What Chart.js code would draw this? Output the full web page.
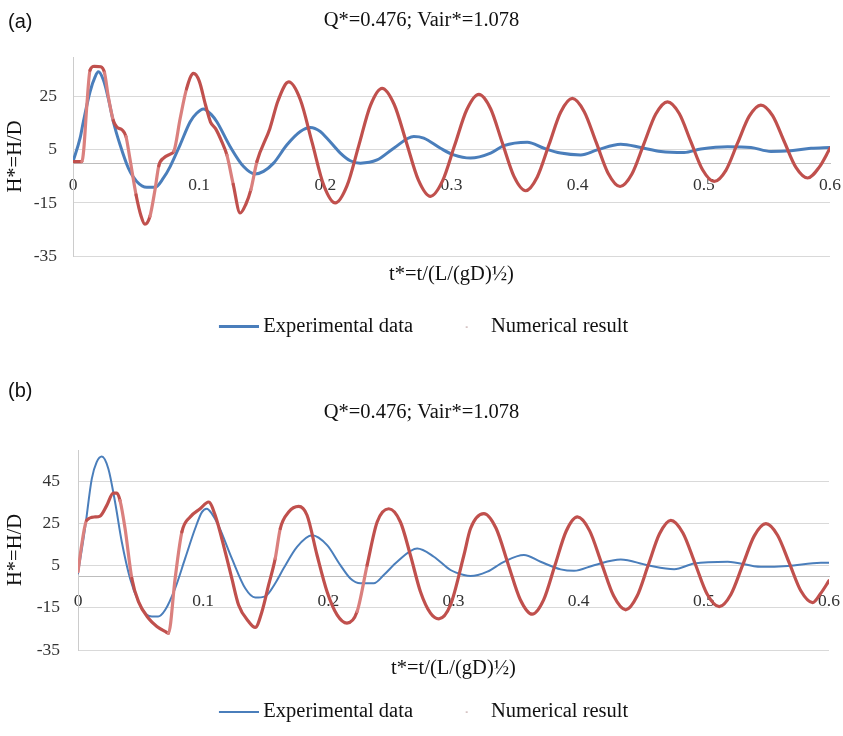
<!DOCTYPE html>
<html><head><meta charset="utf-8">
<script src="https://cdn.jsdelivr.net/npm/chart.js@4"></script>
<style>
html,body{margin:0;padding:0;background:#fff;overflow:hidden;}
#wrap{position:relative;width:843px;height:736px;}
.tag{position:absolute;left:8px;font-family:'Liberation Sans',Arial,sans-serif;font-size:20px;line-height:24px;color:#111;}
.box{position:absolute;left:0;width:843px;}
</style></head><body>
<div id="wrap">
<div class="box" style="top:0;height:347px"><canvas id="ca"></canvas></div>
<div class="box" style="top:366px;height:366px"><canvas id="cb"></canvas></div>
<div class="tag" style="top:9px">(a)</div>
<div class="tag" style="top:378px">(b)</div>
</div>
<script>
// ---------- data ----------
const titleText = 'Q*=0.476; Vair*=1.078';
const xTitle = 't*=t/(L/(gD)½)';
const yTitle = 'H*=H/D';
const seriesNames = ['Experimental data', 'Numerical result'];
const xTicks = [0, 0.1, 0.2, 0.3, 0.4, 0.5, 0.6];
const yTicksA = [-35, -15, 5, 25];
const yTicksB = [-35, -15, 5, 25, 45];

// (a) experimental
const tA_exp = [0,0.0056,0.0082,0.0135,0.0175,0.0201,0.0241,0.028,0.032,0.0373,0.0439,0.0505,0.0585,0.065,0.0717,0.077,0.0849,0.0929,0.098,0.1034,0.110,0.114,0.1246,0.1352,0.1444,0.151,0.159,0.1696,0.1802,0.1881,0.196,0.2013,0.2119,0.2198,0.2278,0.241,0.2542,0.2701,0.278,0.2913,0.3018,0.3151,0.331,0.3415,0.3601,0.3733,0.3865,0.4024,0.4156,0.4341,0.45,0.4659,0.4844,0.4976,0.5188,0.5373,0.5532,0.569,0.5849,0.6];
const hA_exp = [0.6,9.4,15.6,26.9,32.5,34.4,31.3,24.4,15.6,6.9,-1.9,-6.9,-9.1,-9.1,-5.6,-1.3,6.9,15.6,18.8,20.4,18.1,15.6,6.2,-1.3,-4.1,-3.1,0,6.9,11.9,13.4,11.9,9.4,3.8,0.9,0,1.2,5.6,10,9.4,5.6,3.1,1.9,3.8,6.6,7.9,5.6,3.8,3.1,5,7.1,5.9,4.4,4,5.3,6.2,5.9,4.4,4.7,5.6,5.9];

// (a) numerical
const tA_num = [0,0.007,0.0085,0.011,0.0135,0.017,0.022,0.025,0.028,0.032,0.035,0.039,0.042,0.045,0.05,0.054,0.057,0.061,0.065,0.068,0.072,0.0775,0.08,0.085,0.09,0.0955,0.1,0.105,0.109,0.113,0.118,0.122,0.127,0.1325,0.137,0.141,0.1458,0.156,0.1625,0.171,0.1802,0.1895,0.1987,0.2079,0.2172,0.2265,0.2357,0.245,0.2546,0.2642,0.2737,0.2833,0.2929,0.3025,0.3121,0.3217,0.331,0.3402,0.3495,0.3587,0.368,0.3773,0.3865,0.3958,0.4052,0.4147,0.4241,0.4336,0.443,0.4524,0.4618,0.4712,0.4805,0.4897,0.499,0.5082,0.5175,0.5267,0.536,0.5452,0.5545,0.5637,0.573,0.5823,0.5915,0.6];
const hA_num = [0.6,0.6,5,22,35,36.5,36.3,34,25,16,13.5,12.5,10,2,-12,-20,-23,-20,-10,-1,2,3.5,4.5,17,28,33.8,31,22,15.5,13,8,3,-8,-18.8,-15.5,-10,0.6,13,23.5,30.6,23.9,7.8,-8.3,-15,-8.5,6.6,21.7,28.2,22.1,7.9,-6.3,-12.5,-6.7,6.7,20.1,25.9,20.5,7.75,-5,-10.4,-5.2,7,19.2,24.4,19.4,7.8,-3.8,-8.8,-4.1,7.15,18.4,23.1,18.7,8.1,-2.5,-6.9,-2.7,7.5,17.7,21.9,17.9,8.15,-1.6,-5.6,-1.5,5.6];

// (b) experimental
const tB_exp = [0,0.0056,0.011,0.0149,0.019,0.0243,0.0296,0.035,0.0416,0.0483,0.055,0.059,0.064,0.0696,0.0776,0.0856,0.0936,0.099,0.1029,0.1069,0.1122,0.1229,0.1336,0.1416,0.1496,0.1576,0.1643,0.175,0.187,0.199,0.2096,0.2176,0.2256,0.2363,0.2443,0.255,0.271,0.2843,0.2976,0.3083,0.3136,0.327,0.3403,0.3563,0.3696,0.3856,0.3963,0.4123,0.4336,0.4549,0.4763,0.4923,0.519,0.5456,0.567,0.5936,0.6];
const hB_exp = [1.4,22.7,46.3,54.2,56.9,51,35.3,16.3,-1,-12,-18.3,-19.1,-19.1,-16,-5.7,8.5,22.7,30.5,32.1,29.8,24.2,8.5,-5.7,-10.1,-9.5,-3.3,3.8,14,19.5,14.8,5.3,-1,-3.3,-3.3,0.6,6.9,13.2,9.3,3,0.6,0.1,2.2,6.9,10.1,6.9,3.3,2.6,5.3,8,5.3,3.4,6.1,6.9,4.5,4.9,6.4,6.4];

// (b) numerical
const tB_num = [0,0.0029,0.0069,0.0136,0.0176,0.023,0.0282,0.031,0.0336,0.0376,0.043,0.0483,0.0563,0.063,0.0696,0.0723,0.0776,0.083,0.0896,0.0976,0.1043,0.1096,0.1176,0.1229,0.1283,0.1363,0.1416,0.147,0.1523,0.1576,0.1616,0.1683,0.1763,0.183,0.191,0.199,0.207,0.2149,0.223,0.231,0.239,0.2483,0.2576,0.2656,0.2736,0.2816,0.2883,0.2976,0.3083,0.3136,0.3243,0.334,0.3436,0.3533,0.3629,0.372,0.381,0.39,0.399,0.4087,0.4183,0.428,0.4376,0.4466,0.4556,0.4646,0.4736,0.4833,0.493,0.5026,0.5123,0.5216,0.531,0.5403,0.5496,0.5589,0.5683,0.5776,0.5869,0.5935,0.6];
const hB_num = [2.2,14.8,26.6,28.2,28.6,33.7,39.5,39.5,36,22.7,-1,-12,-19.9,-23.8,-26.2,-27,-1,21.1,28.2,32.1,35.3,29,11.6,-1,-13.6,-21.5,-24.3,-16.7,-4.1,8.5,22.7,30.5,33.2,29,10,-7.3,-18.3,-22.2,-16.7,5.3,25.8,32.1,25.8,10,-7.3,-17.5,-20.2,-13.6,10,22.7,29.8,22.8,5.9,-11,-18,-11.2,5.1,21.4,28.2,21.7,6.15,-9.4,-15.9,-9.5,5.35,20.2,26.6,20.6,6.1,-8.4,-14.4,-8.6,5.3,19.2,25,19.5,6.25,-7,-12.5,-8,-2.1];

// ---------- styling ----------
const SERIF = "'Liberation Serif','Times New Roman',serif";
const BLUE = '#4a7ebb';
const RED = '#c0504d';
const PINK = 'rgb(218,128,126)';

function pts(t, h) { return t.map((x, i) => ({ x: x, y: h[i] })); }

function legendImg(kind, lw) {
  const c = document.createElement('canvas');
  const g = c.getContext('2d');
  if (kind === 'line') {
    c.width = 50; c.height = lw;
    g.fillStyle = BLUE; g.fillRect(10, 0, 40, lw);
  } else {
    c.width = 20; c.height = 3;
    g.fillStyle = '#d6c4c4'; g.fillRect(14, 1, 2, 2);
  }
  return c;
}

function makeChart(id, o) {
  const steep = c => Math.abs(c.p1.y - c.p0.y) > 4.5 * Math.abs(c.p1.x - c.p0.x);
  return new Chart(document.getElementById(id), {
    type: 'line',
    data: { datasets: [
      { label: seriesNames[0], data: pts(o.te, o.he), borderColor: BLUE, borderWidth: o.bw,
        pointRadius: 0, cubicInterpolationMode: 'monotone', order: 1, borderCapStyle: 'round', borderJoinStyle: 'round' },
      { label: seriesNames[1], data: pts(o.tn, o.hn), borderColor: RED, borderWidth: 3.2,
        pointRadius: 0, cubicInterpolationMode: 'monotone', order: 0, borderCapStyle: 'round', borderJoinStyle: 'round',
        segment: { borderColor: c => steep(c) ? PINK : RED } }
    ] },
    options: {
      responsive: true, maintainAspectRatio: false, animation: false,
      layout: { padding: 0 },
      plugins: {
        title: { display: true, text: titleText, color: '#111',
          font: { family: SERIF, size: 20.5, weight: 'normal', lineHeight: 1.2 },
          padding: { top: o.tTop, bottom: o.tBot } },
        legend: { position: 'bottom',
          labels: { usePointStyle: true, pointStyleWidth: 38.25, padding: 29.5, color: '#111',
            font: { family: SERIF, size: 20.5 },
            generateLabels: () => [
              { text: seriesNames[0], pointStyle: legendImg('line', o.bw), fillStyle: BLUE, strokeStyle: BLUE, lineWidth: 0, datasetIndex: 0, fontColor: '#111' },
              { text: seriesNames[1], pointStyle: legendImg('dot'), fillStyle: RED, strokeStyle: RED, lineWidth: 0, datasetIndex: 1, fontColor: '#111' }
            ] } },
        tooltip: { enabled: false }
      },
      scales: {
        x: { type: 'linear', axis: 'x', min: 0, max: 0.6, position: { y: 0 },
          grid: { display: false, drawTicks: true, tickLength: o.xPad },
          border: { display: true, color: '#bdbdbd', width: 1 },
          afterBuildTicks: s => { s.ticks = xTicks.map(v => ({ value: v })); },
          ticks: { padding: 0, color: '#333', font: { family: SERIF, size: 17.5 },
            maxRotation: 0, autoSkip: false, callback: v => String(v) } },
        x2: { type: 'linear', axis: 'x', min: 0, max: 1, position: 'bottom',
          grid: { display: false, drawTicks: false }, border: { display: false },
          ticks: { display: false },
          title: { display: true, text: xTitle, color: '#111',
            font: { family: SERIF, size: 20.5, lineHeight: 1 },
            padding: { top: o.x2Top, bottom: o.x2Bot } } },
        y: { type: 'linear', axis: 'y', min: -35, max: o.ymax, position: 'left',
          grid: { color: '#d9d9d9', drawTicks: false },
          border: { display: true, color: '#cccccc' },
          afterBuildTicks: s => { s.ticks = o.yTicks.map(v => ({ value: v })); },
          afterFit: s => { s.width = o.left; },
          ticks: { padding: o.yPad, color: '#333', font: { family: SERIF, size: 17.5 } },
          title: { display: true, text: yTitle, color: '#111',
            font: { family: SERIF, size: 20.5, lineHeight: 1.2 },
            padding: { top: 3.5, bottom: 0 } } },
        yR: { type: 'linear', axis: 'y', position: 'right',
          grid: { display: false, drawTicks: false }, border: { display: false },
          ticks: { display: false }, afterFit: s => { s.width = o.right; } }
      }
    }
  });
}

makeChart('ca', { te: tA_exp, he: hA_exp, tn: tA_num, hn: hA_num, bw: 3, ymax: 40, yTicks: yTicksA,
  tTop: 8, tBot: 24.4, x2Top: 8.25, x2Bot: 2.25, xPad: 11.5, yPad: 16, left: 73, right: 13 });
makeChart('cb', { te: tB_exp, he: hB_exp, tn: tB_num, hn: hB_num, bw: 2, ymax: 60, yTicks: yTicksB,
  tTop: 34.1, tBot: 25.3, x2Top: 8.75, x2Bot: -7.25, xPad: 14.2, yPad: 18, left: 78, right: 14 });
</script>
</body></html>
